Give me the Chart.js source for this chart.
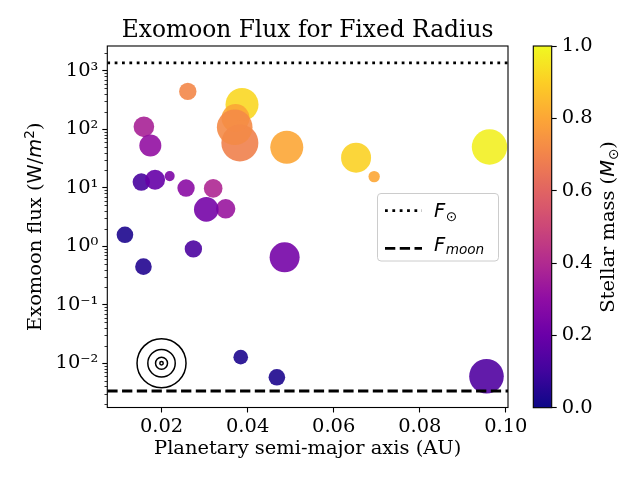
<!DOCTYPE html>
<html>
<head>
<meta charset="utf-8">
<script src="https://cdn.jsdelivr.net/npm/chart.js@4.4.0/dist/chart.umd.min.js"></script>
<style>
body { margin: 0; background: #fff; }
#wrap { position: relative; width: 640px; height: 480px; }
#wrap canvas { position: absolute; left: 0; top: 0; }
</style>
</head>
<body>
<div id="wrap">
  <canvas id="fluxchart" width="640" height="480"></canvas>
  <canvas id="colorbar" width="640" height="480"></canvas>
</div>
<script>
// values
const semiMajorAxis = [0.0261, 0.0387, 0.0372, 0.0382, 0.0370, 0.0491, 0.0652, 0.0694, 0.0962,
                       0.0159, 0.0174, 0.0153, 0.0185, 0.0219, 0.0257, 0.0320, 0.0349, 0.0304,
                       0.0115, 0.0158, 0.0274, 0.0486, 0.0384, 0.0468, 0.0955]
const moonFlux = [444, 265, 155, 58.3, 108, 49.2, 32.7, 15.5, 49.8,
                  110, 52.6, 12.5, 13.7, 15.8, 9.87, 9.75, 4.37, 4.26,
                  1.57, 0.448, 0.90, 0.647, 0.0127, 0.00575, 0.00598]
const stellarMass = [0.71, 0.92, 0.80, 0.69, 0.72, 0.80, 0.91, 0.80, 0.98,
                     0.37, 0.31, 0.12, 0.19, 0.25, 0.29, 0.39, 0.33, 0.23,
                     0.03, 0.04, 0.13, 0.23, 0.03, 0.03, 0.14]
// marker area in points^2 (matplotlib style)
const markerArea = [157, 565, 407, 711, 658, 565, 467, 67, 650,
                    220, 251, 157, 208, 52, 157, 180, 195, 314,
                    143, 143, 157, 467, 111, 143, 621]

const xTickValues = [0.02, 0.04, 0.06, 0.08, 0.10]
const yTickExponents = [-2, -1, 0, 1, 2, 3]
const massTicks = [0, 0.2, 0.4, 0.6, 0.8, 1.0]
const solarFlux = 1361
const moonFluxLimit = 0.00335
const sunSymbolPoint = [0.02, 0.01]
const xLimits = [0.0074, 0.1005]
const yLimits = [0.00175, 2650]

const plasmaStops = [[13,8,135],[65,4,157],[106,0,168],[143,13,164],[177,42,144],[204,71,120],
                     [225,100,98],[242,132,75],[252,166,54],[252,206,37],[240,249,33]]

function plasma(t, a){
    t = Math.min(1, Math.max(0, t))
    let f = t * 10
    let i = Math.min(9, Math.floor(f))
    let u = f - i
    let c = plasmaStops[i].map((v, k) => Math.round(v + (plasmaStops[i+1][k] - v) * u))
    return 'rgba(' + c[0] + ',' + c[1] + ',' + c[2] + ',' + a + ')'
}

const supers = {'-':'\u207B','0':'\u2070','1':'\u00B9','2':'\u00B2','3':'\u00B3','4':'\u2074','5':'\u2075'}
function powerLabel(e){
    return '10' + String(e).split('').map(ch => supers[ch]).join('')
}

// draws a run of text pieces (different fonts / shifts) centred on cx, cy
function drawPieces(ctx, pieces, cx, cy, angle){
    ctx.save()
    ctx.translate(cx, cy)
    ctx.rotate(angle)
    ctx.textBaseline = 'alphabetic'
    ctx.textAlign = 'left'
    ctx.fillStyle = '#000'
    let total = 0
    pieces.forEach(p => { ctx.font = p.font; p.w = ctx.measureText(p.text).width; total += p.w })
    let x = -total / 2
    pieces.forEach(p => {
        ctx.font = p.font
        ctx.fillText(p.text, x, p.dy || 0)
        x += p.w
    })
    ctx.restore()
}

const FS = 19.44
const SUB = 13.6

Chart.defaults.font.family = '"DejaVu Serif"'
Chart.defaults.color = '#000'

const fluxExtras = {
    id: 'fluxExtras',
    afterDatasetsDraw(chart){
        const ctx = chart.ctx
        const ca = chart.chartArea
        const y = chart.scales.y
        ctx.save()
        ctx.strokeStyle = '#000'
        ctx.lineWidth = 1.1
        ctx.strokeRect(ca.left, ca.top, ca.right - ca.left, ca.bottom - ca.top)

        // minor log ticks
        ctx.lineWidth = 0.8
        for(let e = -3; e <= 3; e++){
            for(let k = 2; k <= 9; k++){
                let v = k * Math.pow(10, e)
                if(v < yLimits[0] || v > yLimits[1]) continue
                let py = Math.round(y.getPixelForValue(v)) + 0.5
                ctx.beginPath()
                ctx.moveTo(ca.left - 2.8, py)
                ctx.lineTo(ca.left, py)
                ctx.stroke()
            }
        }

        // y axis label
        drawPieces(ctx, [
            {text: 'Exomoon flux (', font: FS + 'px "DejaVu Serif"'},
            {text: 'W/', font: FS + 'px "DejaVu Sans"'},
            {text: 'm', font: 'italic ' + FS + 'px "DejaVu Sans"'},
            {text: '2', font: SUB + 'px "DejaVu Sans"', dy: -7.5},
            {text: ')', font: FS + 'px "DejaVu Serif"'}
        ], 41, (ca.top + ca.bottom) / 2, -Math.PI / 2)

        // legend
        const bx = 377.5, by = 193.5, bw = 121, bh = 67.5, br = 3.5
        ctx.beginPath()
        ctx.moveTo(bx + br, by)
        ctx.arcTo(bx + bw, by, bx + bw, by + bh, br)
        ctx.arcTo(bx + bw, by + bh, bx, by + bh, br)
        ctx.arcTo(bx, by + bh, bx, by, br)
        ctx.arcTo(bx, by, bx + bw, by, br)
        ctx.closePath()
        ctx.fillStyle = 'rgba(255,255,255,0.8)'
        ctx.fill()
        ctx.strokeStyle = '#cccccc'
        ctx.lineWidth = 1
        ctx.stroke()

        const entries = [
            {dash: chart.data.datasets[0].borderDash, ly: 210.7, base: 217.3, sub: '\u2299', subFont: SUB + 'px "DejaVu Sans"'},
            {dash: chart.data.datasets[1].borderDash, ly: 248.3, base: 250.7, sub: 'moon', subFont: 'italic ' + SUB + 'px "DejaVu Sans"'}
        ]
        entries.forEach(en => {
            ctx.strokeStyle = '#000'
            ctx.lineWidth = 2.78
            ctx.lineCap = 'butt'
            ctx.setLineDash(en.dash)
            ctx.beginPath()
            ctx.moveTo(385, en.ly)
            ctx.lineTo(422, en.ly)
            ctx.stroke()
            ctx.setLineDash([])
            ctx.fillStyle = '#000'
            ctx.textAlign = 'left'
            ctx.textBaseline = 'alphabetic'
            ctx.font = 'italic ' + FS + 'px "DejaVu Sans"'
            ctx.fillText('F', 434, en.base)
            let fw = ctx.measureText('F').width
            ctx.font = en.subFont
            ctx.fillText(en.sub, 434 + fw + 0.5, en.base + 3.5)
        })
        ctx.restore()
    }
}

const bubblePoints = semiMajorAxis.map((a, i) => ({x: a, y: moonFlux[i], r: Math.sqrt(markerArea[i]) / 2 * 100 / 72}))
const sunRings = [24.5, 13.7, 6, 1.7]

new Chart(document.getElementById('fluxchart'), {
    type: 'bubble',
    data: {
        datasets: [
            {
                type: 'line',
                label: 'F_sun',
                data: [{x: xLimits[0], y: solarFlux}, {x: xLimits[1], y: solarFlux}],
                borderColor: '#000',
                borderWidth: 2.78,
                borderDash: [2.78, 4.58],
                borderCapStyle: 'butt',
                pointRadius: 0,
                fill: false,
                order: 0
            },
            {
                type: 'line',
                label: 'F_moon',
                data: [{x: xLimits[0], y: moonFluxLimit}, {x: xLimits[1], y: moonFluxLimit}],
                borderColor: '#000',
                borderWidth: 2.78,
                borderDash: [10.3, 4.45],
                borderCapStyle: 'butt',
                pointRadius: 0,
                fill: false,
                order: 1
            },
            {
                type: 'scatter',
                label: 'Sun',
                data: sunRings.map(() => ({x: sunSymbolPoint[0], y: sunSymbolPoint[1]})),
                pointRadius: sunRings,
                pointStyle: 'circle',
                backgroundColor: 'rgba(0,0,0,0)',
                borderColor: '#000',
                borderWidth: 1.5,
                order: 2
            },
            {
                label: 'Exomoons',
                data: bubblePoints,
                backgroundColor: stellarMass.map(m => plasma(m, 0.9)),
                borderWidth: 0,
                order: 3
            }
        ]
    },
    options: {
        responsive: false,
        animation: false,
        events: [],
        layout: { padding: { left: 0, right: 132, top: 0, bottom: 0 } },
        plugins: {
            legend: { display: false },
            tooltip: { enabled: false },
            title: {
                display: true,
                text: 'Exomoon Flux for Fixed Radius',
                fullSize: false,
                color: '#000',
                font: { family: '"DejaVu Serif"', size: 23.33, weight: 'normal', lineHeight: 1.2 },
                padding: { top: 17.4, bottom: 0.6 }
            }
        },
        scales: {
            x: {
                type: 'linear',
                min: xLimits[0],
                max: xLimits[1],
                afterBuildTicks: s => { s.ticks = xTickValues.map(v => ({value: v})) },
                afterFit: s => { s.height = 72.5 },
                ticks: {
                    callback: v => v.toFixed(2),
                    font: { size: FS },
                    padding: 3,
                    maxRotation: 0
                },
                grid: { drawOnChartArea: false, drawTicks: true, tickLength: 5, tickColor: '#000', tickWidth: 1.1 },
                border: { display: false },
                title: {
                    display: true,
                    text: 'Planetary semi-major axis (AU)',
                    font: { size: FS },
                    padding: { top: 0, bottom: 19.3 }
                }
            },
            y: {
                type: 'logarithmic',
                min: yLimits[0],
                max: yLimits[1],
                afterBuildTicks: s => { s.ticks = yTickExponents.map(e => ({value: Math.pow(10, e), major: true})) },
                afterFit: s => { s.width = 107.3 },
                ticks: {
                    callback: (v, i) => powerLabel(yTickExponents[i]),
                    font: { size: FS },
                    padding: 4
                },
                grid: { drawOnChartArea: false, drawTicks: true, tickLength: 5, tickColor: '#000', tickWidth: 1.1 },
                border: { display: false }
            }
        }
    },
    plugins: [fluxExtras]
})

const colorbarExtras = {
    id: 'colorbarExtras',
    beforeDatasetsDraw(chart){
        const ctx = chart.ctx
        const ca = chart.chartArea
        const y = chart.scales.y
        ctx.save()
        const g = ctx.createLinearGradient(0, y.getPixelForValue(0), 0, y.getPixelForValue(1))
        for(let i = 0; i <= 40; i++){
            g.addColorStop(i / 40, plasma(i / 40, 1))
        }
        ctx.fillStyle = g
        ctx.fillRect(ca.left, ca.top, ca.right - ca.left, ca.bottom - ca.top)
        ctx.strokeStyle = '#000'
        ctx.lineWidth = 1.1
        ctx.strokeRect(ca.left, ca.top, ca.right - ca.left, ca.bottom - ca.top)
        drawPieces(ctx, [
            {text: 'Stellar mass (', font: FS + 'px "DejaVu Serif"'},
            {text: 'M', font: 'italic ' + FS + 'px "DejaVu Sans"'},
            {text: '\u2299', font: SUB + 'px "DejaVu Sans"', dy: 3.5},
            {text: ')', font: FS + 'px "DejaVu Serif"'}
        ], 614, (ca.top + ca.bottom) / 2, -Math.PI / 2)
        ctx.restore()
    }
}

new Chart(document.getElementById('colorbar'), {
    type: 'scatter',
    data: { datasets: [{ data: [] }] },
    options: {
        responsive: false,
        animation: false,
        events: [],
        layout: { padding: { left: 533.3, right: 0, top: 46, bottom: 72.3 } },
        plugins: { legend: { display: false }, tooltip: { enabled: false } },
        scales: {
            x: { display: false, min: 0, max: 1 },
            y: {
                position: 'right',
                min: 0,
                max: 1,
                afterBuildTicks: s => { s.ticks = massTicks.map(v => ({value: v})) },
                afterFit: s => { s.width = 88.3 },
                ticks: {
                    callback: v => v.toFixed(1),
                    font: { size: FS },
                    padding: 5
                },
                grid: { drawOnChartArea: false, drawTicks: true, tickLength: 5, tickColor: '#000', tickWidth: 1.1 },
                border: { display: false }
            }
        }
    },
    plugins: [colorbarExtras]
})
</script>
</body>
</html>
